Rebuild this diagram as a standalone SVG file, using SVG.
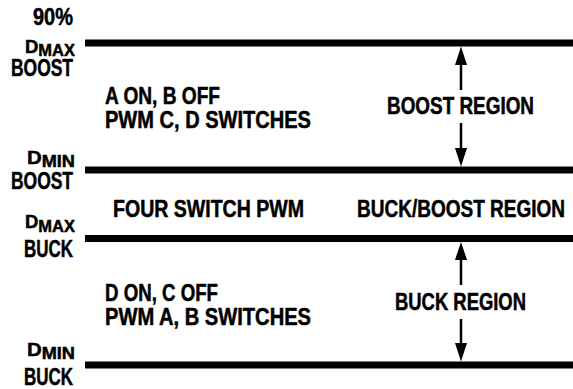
<svg xmlns="http://www.w3.org/2000/svg" width="573" height="389" viewBox="0 0 573 389">
  <style>
    text { font-family: "Liberation Sans", Arial, sans-serif; font-weight: bold; font-size: 23px; fill: #000; stroke: #000; stroke-width: 0.5; }
    .sub { font-size: 16.5px; }
    .dee { font-size: 18.5px; }
    .lbl { text-anchor: end; }
    .level { stroke: #000; stroke-width: 7; fill: none; }
    .shaft { stroke: #000; stroke-width: 2.5; fill: none; }
    .head { fill: #000; }
  </style>
  <rect width="573" height="389" fill="#fff"/>

  <!-- duty-cycle threshold levels -->
  <g id="levels">
    <line class="level" x1="85" y1="43" x2="573" y2="43"/>
    <line class="level" x1="85" y1="170" x2="573" y2="170"/>
    <line class="level" x1="85" y1="238.5" x2="573" y2="238.5"/>
    <line class="level" x1="85" y1="365" x2="573" y2="365"/>
  </g>

  <!-- level labels on the left -->
  <g id="label-dmax-boost">
    <text class="lbl" x="73" y="25" textLength="40" lengthAdjust="spacingAndGlyphs">90%</text>
    <text class="lbl dee" x="75" y="53" textLength="50" lengthAdjust="spacingAndGlyphs">D<tspan class="sub" dy="3">MAX</tspan></text>
    <text class="lbl" x="73" y="76" textLength="62" lengthAdjust="spacingAndGlyphs">BOOST</text>
  </g>
  <g id="label-dmin-boost">
    <text class="lbl dee" x="75" y="164" textLength="48" lengthAdjust="spacingAndGlyphs">D<tspan class="sub" dy="3">MIN</tspan></text>
    <text class="lbl" x="73" y="189" textLength="62" lengthAdjust="spacingAndGlyphs">BOOST</text>
  </g>
  <g id="label-dmax-buck">
    <text class="lbl dee" x="75" y="228" textLength="50" lengthAdjust="spacingAndGlyphs">D<tspan class="sub" dy="4">MAX</tspan></text>
    <text class="lbl" x="73" y="257" textLength="49" lengthAdjust="spacingAndGlyphs">BUCK</text>
  </g>
  <g id="label-dmin-buck">
    <text class="lbl dee" x="75" y="356" textLength="48" lengthAdjust="spacingAndGlyphs">D<tspan class="sub" dy="3">MIN</tspan></text>
    <text class="lbl" x="73" y="385" textLength="49" lengthAdjust="spacingAndGlyphs">BUCK</text>
  </g>

  <!-- operating-mode descriptions -->
  <g id="mode-boost">
    <text x="105" y="104" textLength="115" lengthAdjust="spacingAndGlyphs">A ON, B OFF</text>
    <text x="105" y="128" textLength="206" lengthAdjust="spacingAndGlyphs">PWM C, D SWITCHES</text>
  </g>
  <g id="mode-four-switch">
    <text x="113" y="217" textLength="191" lengthAdjust="spacingAndGlyphs">FOUR SWITCH PWM</text>
  </g>
  <g id="mode-buck">
    <text x="105" y="301" textLength="113" lengthAdjust="spacingAndGlyphs">D ON, C OFF</text>
    <text x="105" y="325" textLength="206" lengthAdjust="spacingAndGlyphs">PWM A, B SWITCHES</text>
  </g>

  <!-- region names -->
  <g id="region-boost">
    <text x="387" y="114" textLength="147" lengthAdjust="spacingAndGlyphs">BOOST REGION</text>
  </g>
  <g id="region-buck-boost">
    <text x="357" y="217" textLength="208" lengthAdjust="spacingAndGlyphs">BUCK/BOOST REGION</text>
  </g>
  <g id="region-buck">
    <text x="395" y="310" textLength="131" lengthAdjust="spacingAndGlyphs">BUCK REGION</text>
  </g>

  <!-- region span arrows -->
  <g id="connectors">
    <line class="shaft" x1="461" y1="62" x2="461" y2="90"/>
    <polygon class="head" points="461,46.5 455,65 467,65"/>
    <line class="shaft" x1="461" y1="123" x2="461" y2="150"/>
    <polygon class="head" points="461,166.5 455,148 467,148"/>

    <line class="shaft" x1="461" y1="257" x2="461" y2="285"/>
    <polygon class="head" points="461,242 455,260 467,260"/>
    <line class="shaft" x1="461" y1="319" x2="461" y2="346"/>
    <polygon class="head" points="461,361.5 455,343 467,343"/>
  </g>
</svg>
